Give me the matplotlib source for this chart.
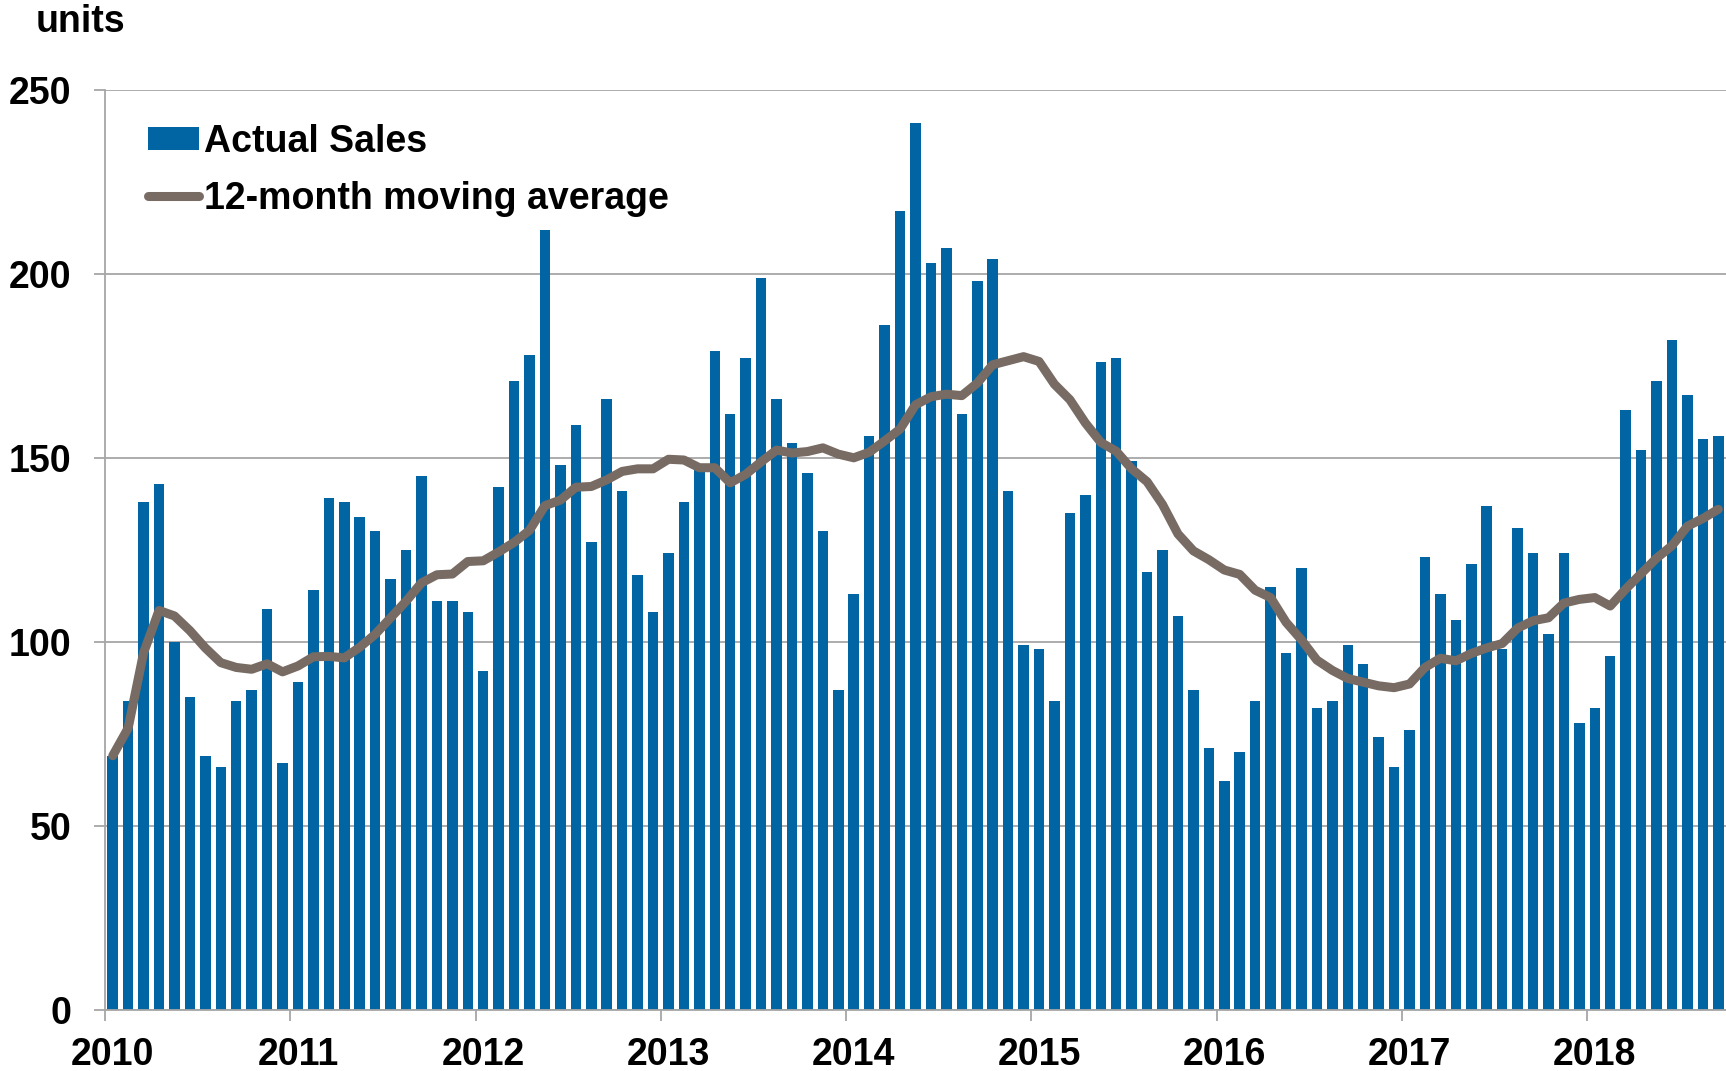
import matplotlib
matplotlib.use('AGG')
import matplotlib.pyplot as plt
import numpy as np
from matplotlib import rcParams

rcParams['font.family'] = ['Liberation Sans', 'DejaVu Sans']
rcParams['font.weight'] = 'bold'

filename = "out"

# monthly sales, Jan 2010 .. Sep 2018
sales_2010 = [69, 84, 138, 143, 100, 85, 69, 66, 84, 87, 109, 67]
sales_2011 = [89, 114, 139, 138, 134, 130, 117, 125, 145, 111, 111, 108]
sales_2012 = [92, 142, 171, 178, 212, 148, 159, 127, 166, 141, 118, 108]
sales_2013 = [124, 138, 147, 179, 162, 177, 199, 166, 154, 146, 130, 87]
sales_2014 = [113, 156, 186, 217, 241, 203, 207, 162, 198, 204, 141, 99]
sales_2015 = [98, 84, 135, 140, 176, 177, 149, 119, 125, 107, 87, 71]
sales_2016 = [62, 70, 84, 115, 97, 120, 82, 84, 99, 94, 74, 66]
sales_2017 = [76, 123, 113, 106, 121, 137, 98, 131, 124, 102, 124, 78]
sales_2018 = [82, 96, 163, 152, 171, 182, 167, 155, 156]

# 12-month moving average
ma_2010 = [69, 76.5, 97, 108.5, 107, 103, 98.3, 94.3, 93, 92.5, 94, 91.8]
ma_2011 = [93.4, 95.9, 96, 95.6, 98.5, 102, 106.5, 111, 116, 118.2, 118.4, 121.8]
ma_2012 = [122, 124.4, 127, 130.3, 137, 138.5, 142, 142.2, 144, 146.3, 147, 147]
ma_2013 = [149.6, 149.4, 147.3, 147.3, 143.2, 145.5, 148.9, 152.1, 151.3, 151.7, 152.7, 151]
ma_2014 = [150, 151.5, 154.6, 157.8, 164.4, 166.6, 167.3, 166.9, 170.3, 175.3, 176.4, 177.5]
ma_2015 = [176.2, 170, 165.8, 159.5, 154.2, 151.8, 147, 143.5, 137.3, 129.3, 124.7, 122.3]
ma_2016 = [119.5, 118.3, 114, 112, 105.3, 100.5, 95, 92.2, 90, 89, 88, 87.5]
ma_2017 = [88.5, 93, 95.5, 94.8, 96.8, 98.3, 99.5, 103.7, 105.7, 106.5, 110.5, 111.5]
ma_2018 = [112, 109.7, 114.3, 118.5, 122.7, 126.1, 131.4, 133.5, 136]

years = ['2010', '2011', '2012', '2013', '2014', '2015', '2016', '2017', '2018']
y_ticks = [0, 50, 100, 150, 200, 250]

sales = (sales_2010 + sales_2011 + sales_2012 + sales_2013 + sales_2014
         + sales_2015 + sales_2016 + sales_2017 + sales_2018)
ma = (ma_2010 + ma_2011 + ma_2012 + ma_2013 + ma_2014
      + ma_2015 + ma_2016 + ma_2017 + ma_2018)
x = np.arange(len(sales))

bar_color = '#0065A2'
line_color = '#776B64'
grid_color = '#A6A6A6'
fs = 27

fig = plt.figure(figsize=(17.26, 10.71), dpi=100)
ax = fig.add_axes([105/1726, 1 - 1009.5/1071, 1 - 105/1726, 919.5/1071])

bars = ax.bar(x, sales, width=0.68, color=bar_color, label='Actual Sales', zorder=2)
line, = ax.plot(x, ma, color=line_color, lw=6.5, solid_capstyle='round',
                solid_joinstyle='round', label='12-month moving average', zorder=3)

ax.set_xlim(-0.5, len(sales) - 0.5)
ax.set_ylim(0, 250)
ax.set_yticks(y_ticks)
ax.set_yticklabels([str(v) for v in y_ticks], fontsize=fs, fontweight='bold')
ax.yaxis.grid(True, color=grid_color, lw=1.3)
ax.set_axisbelow(True)

# year boundaries as ticks, labels under each January
ax.set_xticks(np.arange(len(years)) * 12 - 0.5)
ax.set_xticklabels([])
ax.set_xticks(np.arange(len(years)) * 12, minor=True)
ax.set_xticklabels(years, minor=True, fontsize=fs, fontweight='bold')
ax.tick_params(axis='x', which='major', length=8, width=1.3, color=grid_color, direction='out')
ax.tick_params(axis='x', which='minor', length=0, pad=20)
ax.tick_params(axis='y', length=8, width=1.3, color=grid_color, direction='out', pad=16)

for side in ['top', 'right']:
    ax.spines[side].set_visible(False)
for side in ['left', 'bottom']:
    ax.spines[side].set_color(grid_color)
    ax.spines[side].set_linewidth(1.3)

leg = ax.legend([bars, line], ['Actual Sales', '12-month moving average'],
                loc='upper left', bbox_to_anchor=(0.0265, 0.963), frameon=False,
                fontsize=fs, borderpad=0, borderaxespad=0, handlelength=1.35,
                handleheight=0.55, handletextpad=0.15, labelspacing=0.55)
for t in leg.get_texts():
    t.set_fontweight('bold')

fig.text(36/1726, 1 - 32/1071, 'units', fontsize=fs, fontweight='bold',
         ha='left', va='baseline')

plt.savefig(filename + ".png", dpi=100)
